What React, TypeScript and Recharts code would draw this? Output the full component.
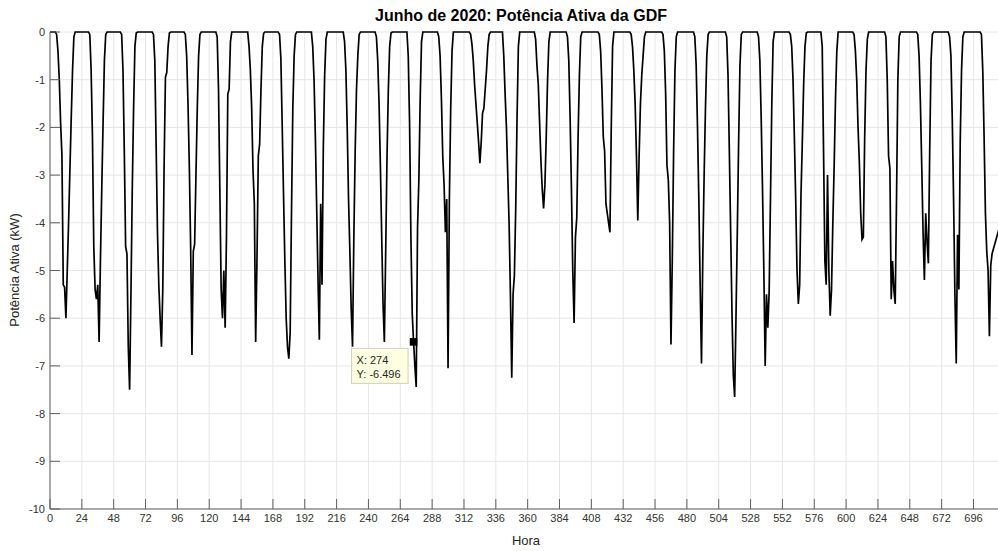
import { CartesianGrid, Line, LineChart, ReferenceDot, XAxis, YAxis } from 'recharts';

// Potência ativa horária (kW) por dia de junho/2020, horas 0..23
const day01 = [0, 0, 0, 0, 0, -0.05, -0.4, -1.0, -1.9, -2.6, -5.3, -5.35, -6.0, -5.0, -4.0, -2.9, -1.8, -0.8, -0.1, 0, 0, 0, 0, 0];
const day02 = [0, 0, 0, 0, 0, 0, -0.05, -0.8, -2.2, -4.5, -5.4, -5.6, -5.3, -6.5, -4.8, -3.3, -1.9, -0.6, -0.05, 0, 0, 0, 0, 0];
const day03 = [0, 0, 0, 0, 0, 0, -0.05, -0.8, -2.5, -4.5, -4.65, -6.6, -7.5, -5.5, -3.3, -1.6, -0.3, -0.02, 0, 0, 0, 0, 0, 0];
const day04 = [0, 0, 0, 0, 0, 0, -0.05, -0.6, -2.4, -4.2, -5.3, -6.0, -6.6, -5.4, -2.8, -0.95, -0.85, -0.3, -0.02, 0, 0, 0, 0, 0];
const day05 = [0, 0, 0, 0, 0, 0, -0.05, -0.5, -1.5, -2.8, -4.5, -6.77, -4.6, -4.45, -3.0, -1.6, -0.5, -0.05, 0, 0, 0, 0, 0, 0];
const day06 = [0, 0, 0, 0, 0, 0, -0.1, -1.2, -3.3, -5.4, -6.0, -5.0, -6.2, -4.3, -1.3, -1.2, -0.2, 0, 0, 0, 0, 0, 0, 0];
const day07 = [0, 0, 0, 0, 0, 0, -0.3, -0.8, -1.6, -2.9, -3.6, -6.5, -4.75, -2.6, -2.35, -1.2, -0.3, -0.03, 0, 0, 0, 0, 0, 0];
const day08 = [0, 0, 0, 0, 0, -0.05, -0.55, -1.95, -3.4, -4.8, -6.0, -6.6, -6.85, -6.3, -3.8, -1.6, -0.5, -0.05, 0, 0, 0, 0, 0, 0];
const day09 = [0, 0, 0, 0, 0, 0, -0.3, -1.0, -2.2, -3.7, -5.2, -6.45, -3.6, -5.3, -2.4, -0.9, -0.15, 0, 0, 0, 0, 0, 0, 0];
const day10 = [0, 0, 0, 0, 0, 0, -0.2, -0.8, -2.0, -3.5, -4.6, -5.8, -6.6, -4.3, -2.5, -1.2, -0.5, -0.05, 0, 0, 0, 0, 0, 0];
const day11 = [0, 0, 0, 0, 0, 0, -0.1, -0.6, -1.5, -2.8, -4.3, -5.7, -6.5, -4.6, -2.6, -1.2, -0.3, -0.02, 0, 0, 0, 0, 0, 0];
const day12 = [0, 0, 0, 0, 0, 0, -0.5, -1.9, -4.3, -5.9, -6.496, -7.0, -7.44, -4.1, -3.1, -1.4, -0.2, 0, 0, 0, 0, 0, 0, 0];
const day13 = [0, 0, 0, 0, 0, -0.1, -0.5, -1.4, -2.6, -3.2, -4.2, -3.5, -7.05, -3.5, -1.6, -0.4, 0, 0, 0, 0, 0, 0, 0, 0];
const day14 = [0, 0, 0, 0, 0, -0.05, -0.25, -0.6, -1.1, -1.5, -1.9, -2.3, -2.75, -2.3, -1.7, -1.6, -1.2, -0.8, -0.3, -0.05, 0, 0, 0, 0];
const day15 = [0, 0, 0, 0, 0, 0, -0.5, -1.3, -2.0, -3.0, -4.0, -5.5, -7.25, -5.5, -5.1, -3.7, -1.8, -0.3, 0, 0, 0, 0, 0, 0];
const day16 = [0, 0, 0, 0, 0, 0, -0.15, -0.7, -1.1, -1.9, -2.7, -3.3, -3.7, -3.2, -2.2, -1.0, -0.2, 0, 0, 0, 0, 0, 0, 0];
const day17 = [0, 0, 0, 0, 0, 0, -0.1, -0.6, -1.8, -3.3, -5.0, -6.1, -4.3, -3.9, -2.2, -0.9, -0.1, 0, 0, 0, 0, 0, 0, 0];
const day18 = [0, 0, 0, 0, 0, 0, -0.05, -0.4, -1.2, -2.2, -2.5, -3.6, -3.8, -4.0, -4.2, -2.0, -0.3, 0, 0, 0, 0, 0, 0, 0];
const day19 = [0, 0, 0, 0, 0, 0, -0.05, -0.3, -0.8, -1.5, -2.6, -3.95, -2.6, -1.5, -0.9, -0.5, -0.1, 0, 0, 0, 0, 0, 0, 0];
const day20 = [0, 0, 0, 0, 0, 0, -0.05, -0.4, -1.3, -2.8, -3.1, -4.0, -6.55, -4.8, -2.5, -0.8, -0.1, 0, 0, 0, 0, 0, 0, 0];
const day21 = [0, 0, 0, 0, 0, 0, -0.1, -0.7, -2.0, -3.5, -5.3, -6.95, -4.7, -3.0, -1.6, -0.5, -0.05, 0, 0, 0, 0, 0, 0, 0];
const day22 = [0, 0, 0, 0, 0, 0, -0.1, -0.9, -2.5, -4.2, -5.9, -7.2, -7.65, -6.0, -4.2, -2.3, -0.7, -0.05, 0, 0, 0, 0, 0, 0];
const day23 = [0, 0, 0, 0, 0, 0, -0.1, -0.6, -1.8, -3.3, -5.0, -7.0, -5.5, -6.2, -5.45, -3.5, -1.5, -0.2, 0, 0, 0, 0, 0, 0];
const day24 = [0, 0, 0, 0, 0, 0, -0.05, -0.3, -1.0, -2.2, -3.5, -5.0, -5.7, -5.3, -3.4, -2.3, -1.1, -0.3, -0.02, 0, 0, 0, 0, 0];
const day25 = [0, 0, 0, 0, 0, 0, -0.3, -2.5, -4.8, -5.3, -3.0, -5.0, -5.95, -5.4, -4.0, -2.8, -1.4, -0.4, 0, 0, 0, 0, 0, 0];
const day26 = [0, 0, 0, 0, 0, 0, -0.05, -0.4, -1.0, -2.0, -2.75, -3.8, -4.35, -4.3, -2.2, -0.8, -0.15, 0, 0, 0, 0, 0, 0, 0];
const day27 = [0, 0, 0, 0, 0, 0, -0.1, -1.0, -2.6, -2.85, -5.6, -4.8, -5.4, -5.7, -3.5, -1.0, -0.1, 0, 0, 0, 0, 0, 0, 0];
const day28 = [0, 0, 0, 0, 0, 0, -0.05, -0.5, -1.5, -2.8, -4.2, -5.2, -3.8, -4.4, -4.85, -2.5, -0.6, -0.05, 0, 0, 0, 0, 0, 0];
const day29 = [0, 0, 0, 0, 0, 0, -0.1, -0.5, -1.8, -3.5, -5.5, -6.95, -4.25, -5.4, -2.3, -0.8, -0.1, 0, 0, 0, 0, 0, 0, 0];
const day30 = [0, 0, 0, 0, 0, 0, -0.05, -0.8, -2.2, -3.8, -4.6, -5.0, -6.38, -4.9, -4.65, -4.55, -4.45, -4.35, -4.25, -4.15];

const days = [
  day01, day02, day03, day04, day05, day06, day07, day08, day09, day10,
  day11, day12, day13, day14, day15, day16, day17, day18, day19, day20,
  day21, day22, day23, day24, day25, day26, day27, day28, day29, day30,
];

const xTicks = [0, 24, 48, 72, 96, 120, 144, 168, 192, 216, 240, 264, 288, 312, 336, 360, 384, 408, 432, 456, 480, 504, 528, 552, 576, 600, 624, 648, 672, 696];
const yTicks = [-10, -9, -8, -7, -6, -5, -4, -3, -2, -1, 0];

// datatip (hora 274 = dia 12, 10h)
const tipHour = 274;
const tipValue = day12[10];

const data = days.flatMap((values, d) =>
  values.map((v, h) => ({ hora: d * 24 + h, potencia: v })),
);

const FONT = '"Liberation Sans", Arial, Helvetica, sans-serif';
const AXIS = '#5f5f5f';
const TEXT = '#333333';
const TICK_LEN = 10;

function BottomTick({ x, y, payload }: any) {
  return (
    <g>
      <line x1={x} y1={y} x2={x} y2={y - TICK_LEN} stroke={AXIS} />
      <text x={x} y={y + 13} textAnchor="middle" fontSize={11} fill={TEXT} fontFamily={FONT}>
        {payload.value}
      </text>
    </g>
  );
}

function TopTick({ x, y }: any) {
  return <line x1={x} y1={y} x2={x} y2={y + TICK_LEN} stroke={AXIS} />;
}

function LeftTick({ x, y, payload }: any) {
  return (
    <g>
      <line x1={x} y1={y} x2={x + TICK_LEN} y2={y} stroke={AXIS} />
      <text x={x - 5} y={y + 4} textAnchor="end" fontSize={11} fill={TEXT} fontFamily={FONT}>
        {payload.value}
      </text>
    </g>
  );
}

function RightTick({ x, y }: any) {
  return <line x1={x} y1={y} x2={x - TICK_LEN} y2={y} stroke={AXIS} />;
}

function Datatip({ cx, cy }: any) {
  return (
    <g>
      <rect x={cx - 3.8} y={cy - 3.8} width={7.6} height={7.6} fill="#000" />
      <rect x={cx - 62} y={cy + 6.5} width={56.5} height={35} fill="#ffffe1" stroke="#cfcfbf" />
      <text x={cx - 57} y={cy + 22} fontSize={11} fill="#262626" fontFamily={FONT}>
        {`X: ${tipHour}`}
      </text>
      <text x={cx - 57} y={cy + 36.5} fontSize={11} fill="#262626" fontFamily={FONT}>
        {`Y: ${tipValue}`}
      </text>
    </g>
  );
}

export default function App() {
  return (
    <div
      style={{
        position: 'fixed',
        left: 0,
        top: 0,
        width: 998,
        height: 551,
        overflow: 'hidden',
        background: '#fff',
        fontFamily: FONT,
      }}
    >
      <LineChart
        width={1016}
        height={551}
        data={data}
        margin={{ top: 32, right: 12, bottom: 0, left: 0 }}
      >
        <CartesianGrid stroke="#e6e6e6" strokeWidth={1} />
        <XAxis
          dataKey="hora"
          type="number"
          domain={[0, 719]}
          ticks={xTicks}
          interval={0}
          height={42}
          tickSize={0}
          tickMargin={0}
          tickLine={false}
          axisLine={{ stroke: AXIS }}
          tick={BottomTick}
        />
        <XAxis
          xAxisId="top"
          orientation="top"
          type="number"
          domain={[0, 719]}
          ticks={xTicks}
          interval={0}
          height={0}
          tickSize={0}
          tickMargin={0}
          tickLine={false}
          axisLine={{ stroke: AXIS }}
          tick={TopTick}
        />
        <YAxis
          type="number"
          domain={[-10, 0]}
          ticks={yTicks}
          interval={0}
          width={50}
          tickSize={0}
          tickMargin={0}
          tickLine={false}
          axisLine={{ stroke: AXIS }}
          tick={LeftTick}
        />
        <YAxis
          yAxisId="right"
          orientation="right"
          type="number"
          domain={[-10, 0]}
          ticks={yTicks}
          interval={0}
          width={0}
          tickSize={0}
          tickMargin={0}
          tickLine={false}
          axisLine={{ stroke: AXIS }}
          tick={RightTick}
        />
        <Line
          type="linear"
          dataKey="potencia"
          stroke="#000"
          strokeWidth={1.7}
          dot={false}
          isAnimationActive={false}
        />
        <ReferenceDot x={tipHour} y={tipValue} shape={Datatip} />
      </LineChart>
      <svg
        width={998}
        height={551}
        style={{ position: 'absolute', left: 0, top: 0, pointerEvents: 'none' }}
      >
        <text x={521} y={20.5} textAnchor="middle" fontSize={16} fontWeight="bold" fill="#000" fontFamily={FONT}>
          Junho de 2020: Potência Ativa da GDF
        </text>
        <text x={526} y={545} textAnchor="middle" fontSize={13} fill="#262626" fontFamily={FONT}>
          Hora
        </text>
        <text
          x={0}
          y={0}
          transform="translate(18.5 270) rotate(-90)"
          textAnchor="middle"
          fontSize={13}
          fill="#262626"
          fontFamily={FONT}
        >
          Potência Ativa (kW)
        </text>
      </svg>
    </div>
  );
}
